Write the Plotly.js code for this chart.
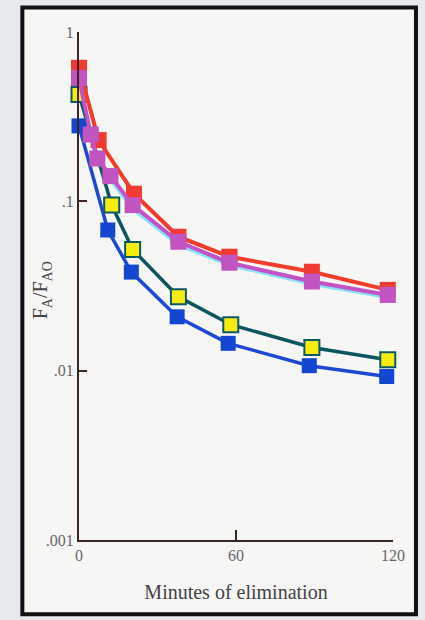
<!DOCTYPE html>
<html>
<head>
<meta charset="utf-8">
<script src="https://cdn.plot.ly/plotly-3.0.1.min.js"></script>
<style>html,body{margin:0;padding:0;background:#e6e9ee;}#chart{width:425px;height:620px;}</style>
</head>
<body>
<div id="chart"></div>
<script>
// Data (minutes, F_A/F_AO)
const redX = [0, 7.5, 21, 38, 57.5, 89, 118];
const redY = [0.615, 0.23, 0.111, 0.0618, 0.0471, 0.0384, 0.030];

const magentaX = [0, 4.5, 7, 12, 20.5, 38, 57.5, 89, 118];
const magentaY = [0.534, 0.248, 0.179, 0.141, 0.095, 0.0577, 0.0434, 0.0336, 0.028];

const cyanX = [0, 4.5, 7, 12, 20.5, 38, 57.5, 89, 118];
const cyanY = [0.45, 0.235, 0.172, 0.135, 0.091, 0.0555, 0.0422, 0.0326, 0.0272];

const yellowX = [0, 12.5, 20.5, 38, 58, 89, 118];
const yellowY = [0.428, 0.095, 0.0519, 0.0273, 0.0187, 0.0137, 0.0116];

const blueX = [0, 11, 20, 37.5, 57, 88, 117.6];
const blueY = [0.279, 0.0677, 0.0382, 0.0208, 0.0145, 0.0107, 0.00924];

const xTickVals = [0, 60, 120];
const xTickText = ['0', '60', '120'];
const yTickVals = [0.001, 0.01, 0.1, 1];
const yTickText = ['.001', '.01', '.1', '1'];

const traces = [
  {x: cyanX, y: cyanY, mode: 'lines', line: {color: '#86e2f2', width: 4}, cliponaxis: false, hoverinfo: 'skip'},
  {x: blueX, y: blueY, mode: 'lines+markers', line: {color: '#1f48d6', width: 3.5},
   marker: {symbol: 'square', size: 15, color: '#1446d2', line: {width: 0}}, cliponaxis: false},
  {x: yellowX, y: yellowY, mode: 'lines+markers', line: {color: '#0d5560', width: 3.5},
   marker: {symbol: 'square', size: 15, color: '#f7ec10', line: {width: 2, color: '#0d5a66'}}, cliponaxis: false},
  {x: redX, y: redY, mode: 'lines+markers', line: {color: '#f23c2c', width: 4},
   marker: {symbol: 'square', size: 16, color: '#f03a32', line: {width: 0}}, cliponaxis: false},
  {x: magentaX, y: magentaY, mode: 'lines+markers', line: {color: '#c452c6', width: 4},
   marker: {symbol: 'square', size: 16, color: '#c254c2', line: {width: 0}}, cliponaxis: false}
];

const L = 78.7, R = 32, T = 31.5, B = 79.5;
const W = 425, H = 620;
const pw = W - L - R, ph = H - T - B;
function px2x(p){ return (p - L) / pw; }
function py2y(p){ return (H - B - p) / ph; }

const layout = {
  width: W, height: H,
  margin: {l: L, r: R, t: T, b: B, pad: 0},
  paper_bgcolor: '#e6e9ee',
  plot_bgcolor: 'rgba(0,0,0,0)',
  showlegend: false,
  font: {family: '"Liberation Serif", "DejaVu Serif", serif', color: '#555'},
  shapes: [{
    type: 'rect', xref: 'paper', yref: 'paper', layer: 'below',
    x0: px2x(22), x1: px2x(416), y0: py2y(615), y1: py2y(7),
    line: {color: '#111', width: 4}, fillcolor: '#f6f6f4'
  }],
  annotations: [{
    xref: 'paper', yref: 'paper', x: px2x(42), y: py2y(290),
    xanchor: 'center', yanchor: 'middle', textangle: -90, showarrow: false,
    text: 'F<sub>A</sub>/F<sub>AO</sub>', font: {size: 20, color: '#444'}
  }],
  xaxis: {
    range: [0, 120], showgrid: false, zeroline: false,
    showline: true, linecolor: '#3a2624', linewidth: 2,
    ticks: 'inside', ticklen: 10, tickwidth: 2, tickcolor: '#3a2624',
    tickvals: xTickVals, ticktext: xTickText,
    tickfont: {size: 16, color: '#666'},
    title: {text: 'Minutes of elimination', font: {size: 20, color: '#444'}, standoff: 22}
  },
  yaxis: {
    type: 'log', range: [-3, 0], showgrid: false, zeroline: false,
    showline: true, linecolor: '#3a2624', linewidth: 2,
    ticks: 'inside', ticklen: 8, tickwidth: 2, tickcolor: '#3a2624',
    tickvals: yTickVals, ticktext: yTickText,
    tickfont: {size: 16, color: '#666'}
  }
};

Plotly.newPlot('chart', traces, layout, {displayModeBar: false, staticPlot: true});
</script>
</body>
</html>
